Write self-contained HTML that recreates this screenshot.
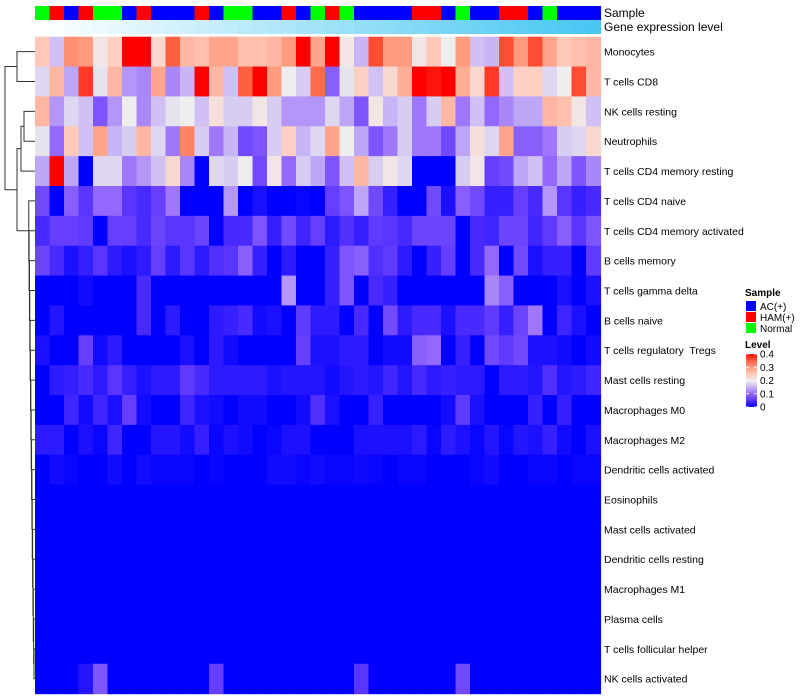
<!DOCTYPE html>
<html><head><meta charset="utf-8">
<style>
html,body{margin:0;padding:0;background:#fff;width:800px;height:700px;overflow:hidden;}
svg text{font-family:"Liberation Sans",sans-serif;white-space:pre;}
</style></head>
<body>
<svg id="chart" width="800" height="700" viewBox="0 0 800 700" xmlns="http://www.w3.org/2000/svg">
<g id="dendro" stroke="#333" stroke-width="1" fill="none"></g>
<g id="cells"></g>
<g id="annot"></g>
<g id="labels" font-size="10.5" fill="#000"></g>
<text x="604" y="17" font-size="12">Sample</text>
<text x="604" y="31" font-size="12">Gene expression level</text>
<g id="legend" font-size="10"></g>
</svg>
<script>
const rowNames = ["Monocytes","T cells CD8","NK cells resting","Neutrophils","T cells CD4 memory resting","T cells CD4 naive","T cells CD4 memory activated","B cells memory","T cells gamma delta","B cells naive","T cells regulatory  Tregs","Mast cells resting","Macrophages M0","Macrophages M2","Dendritic cells activated","Eosinophils","Mast cells activated","Dendritic cells resting","Macrophages M1","Plasma cells","T cells follicular helper","NK cells activated"];
const sampleGroups = ["Normal","HAM(+)","AC(+)","HAM(+)","Normal","Normal","AC(+)","HAM(+)","AC(+)","AC(+)","AC(+)","HAM(+)","AC(+)","Normal","Normal","AC(+)","AC(+)","HAM(+)","AC(+)","Normal","HAM(+)","Normal","AC(+)","AC(+)","AC(+)","AC(+)","HAM(+)","HAM(+)","AC(+)","Normal","AC(+)","AC(+)","HAM(+)","HAM(+)","AC(+)","Normal","AC(+)","AC(+)","AC(+)"];
const r0 = [0.25,0.16,0.31,0.30,0.21,0.24,0.4,0.4,0.23,0.35,0.27,0.26,0.29,0.29,0.26,0.26,0.27,0.30,0.4,0.29,0.4,0.21,0.15,0.36,0.30,0.30,0.21,0.25,0.2,0.30,0.16,0.15,0.36,0.30,0.36,0.29,0.25,0.26,0.27];
const r1 = [0.18,0.27,0.14,0.37,0.19,0.27,0.13,0.12,0.29,0.12,0.15,0.4,0.27,0.16,0.35,0.4,0.30,0.2,0.17,0.34,0.09,0.19,0.24,0.16,0.23,0.28,0.4,0.39,0.4,0.28,0.23,0.37,0.16,0.24,0.24,0.18,0.2,0.36,0.27];
const r2 = [0.27,0.13,0.18,0.16,0.08,0.13,0.2,0.12,0.16,0.19,0.2,0.16,0.22,0.17,0.17,0.21,0.17,0.13,0.13,0.13,0.18,0.14,0.08,0.21,0.15,0.17,0.11,0.17,0.27,0.11,0.16,0.10,0.12,0.14,0.14,0.27,0.26,0.21,0.16];
const r3 = [0.19,0.10,0.25,0.16,0.29,0.15,0.17,0.27,0.18,0.11,0.32,0.17,0.11,0.15,0.07,0.08,0.17,0.24,0.15,0.18,0.29,0.2,0.14,0.08,0.11,0.17,0.11,0.11,0.07,0.14,0.22,0.18,0.29,0.09,0.09,0.11,0.17,0.18,0.23];
const r4 = [0.14,0.4,0.14,0,0.18,0.18,0.11,0.13,0.16,0.23,0.12,0,0.18,0.17,0.2,0.07,0.21,0.10,0.17,0.14,0.08,0.16,0.27,0.17,0.21,0.18,0,0,0,0.17,0.21,0.06,0.07,0.14,0.16,0.10,0.14,0.08,0.12];
const r5 = [0.07,0,0.09,0.05,0.10,0.10,0.05,0.04,0.06,0.11,0,0,0,0.13,0,0.015,0,0,0.005,0,0.06,0.08,0.14,0.07,0.03,0,0,0.07,0.015,0.09,0.07,0.03,0.03,0.06,0.04,0.13,0.05,0.03,0.04];
const r6 = [0.04,0.06,0.06,0.055,0,0.06,0.06,0.04,0.065,0.05,0.05,0.065,0,0.04,0.04,0.08,0.03,0.07,0.035,0.06,0.025,0.045,0.03,0.055,0.05,0.04,0.065,0.065,0.065,0,0.04,0.035,0.065,0.065,0.035,0.055,0.09,0.05,0.08];
const r7 = [0.065,0.04,0.015,0.03,0.05,0.025,0.015,0.025,0.06,0.025,0.05,0.025,0.045,0.05,0.09,0.03,0,0.025,0,0,0.03,0.08,0.09,0.045,0.055,0.025,0,0.03,0.06,0,0.04,0.10,0,0.07,0.015,0.03,0.03,0,0.055];
const r8 = [0,0,0,0.01,0,0,0,0.04,0,0,0,0,0,0,0,0,0,0.13,0,0,0.03,0.08,0,0.04,0.03,0,0,0,0,0,0,0.12,0.09,0,0,0,0.015,0,0.015];
const r9 = [0,0.02,0,0,0,0,0,0.04,0,0.025,0,0,0.025,0.03,0.04,0.01,0.015,0,0.055,0.025,0.025,0,0.04,0,0.07,0.025,0.04,0.04,0.015,0.04,0.04,0.055,0.03,0.065,0.11,0,0.035,0.015,0];
const r10 = [0.015,0,0,0.06,0.01,0.025,0,0,0,0,0.015,0,0.025,0.01,0,0,0,0,0.06,0.015,0.015,0.025,0.025,0,0.01,0.01,0.09,0.10,0,0.03,0,0.07,0.055,0.07,0.015,0.015,0.01,0,0.01];
const r11 = [0,0.025,0.03,0.04,0.025,0.05,0.03,0.015,0.025,0.025,0.055,0.04,0.025,0.025,0.025,0.025,0.015,0.02,0.02,0.02,0.01,0.02,0.025,0.02,0.035,0.02,0.04,0.025,0.03,0.025,0.025,0,0.025,0.025,0.02,0.045,0.02,0.025,0.035];
const r12 = [0,0,0.035,0.01,0.035,0.015,0.06,0.01,0,0,0.035,0.015,0.01,0,0.01,0.01,0,0,0.01,0.045,0.015,0,0,0.03,0,0,0,0,0.01,0.055,0.015,0,0,0,0.03,0,0.03,0,0];
const r13 = [0.025,0.025,0,0.015,0.005,0.035,0,0,0.02,0.02,0.01,0.03,0.005,0.015,0.01,0,0.005,0.015,0.015,0,0,0,0.015,0.015,0.015,0.015,0.025,0.005,0.025,0.015,0.005,0.02,0.005,0.02,0.015,0.03,0.01,0,0.015];
const r14 = [0,0.01,0.005,0,0,0.01,0,0.01,0.005,0.005,0.005,0,0.005,0,0,0,0.01,0.01,0.005,0.01,0.005,0.005,0.008,0.005,0,0.005,0.005,0,0,0,0.005,0.01,0,0,0.005,0.005,0,0.005,0.005];
const r15 = [0,0,0,0,0,0,0,0,0,0,0,0,0,0,0,0,0,0,0,0,0,0,0,0,0,0,0,0,0,0,0,0,0,0,0,0,0,0,0];
const r16 = [0,0,0,0,0,0,0,0,0,0,0,0,0,0,0,0,0,0,0,0,0,0,0,0,0,0,0,0,0,0,0,0,0,0,0,0,0,0,0];
const r17 = [0,0,0,0,0,0,0,0,0,0,0,0,0,0,0,0,0,0,0,0,0,0,0,0,0,0,0,0,0,0,0,0,0,0,0,0,0,0,0];
const r18 = [0,0,0,0,0,0,0,0,0,0,0,0,0,0,0,0,0,0,0,0,0,0,0,0,0,0,0,0,0,0,0,0,0,0,0,0,0,0,0];
const r19 = [0,0,0,0,0,0,0,0,0,0,0,0,0,0,0,0,0,0,0,0,0,0,0,0,0,0,0,0,0,0,0,0,0,0,0,0,0,0,0];
const r20 = [0,0,0,0,0,0,0,0,0,0,0,0,0,0,0,0,0,0,0,0,0,0,0,0,0,0,0,0,0,0,0,0,0,0,0,0,0,0,0];
const r21 = [0,0,0,0.02,0.08,0,0,0,0,0,0,0,0.06,0,0,0,0,0,0,0,0,0,0.05,0,0,0,0,0,0,0.07,0,0,0,0,0,0,0,0,0];
const values = [r0,r1,r2,r3,r4,r5,r6,r7,r8,r9,r10,r11,r12,r13,r14,r15,r16,r17,r18,r19,r20,r21];
const levelTicks = [0,0.1,0.2,0.3,0.4];
const groupNames = ["AC(+)","HAM(+)","Normal"];

const NS="http://www.w3.org/2000/svg";
const X0=35, X1=600.5, Y0=36.7, Y1=693.6;
const nCol=sampleGroups.length, nRow=rowNames.length;
const cw=(X1-X0)/nCol, rh=(Y1-Y0)/nRow;
const xPos=c=>X0+c*cw;
const yPos=r=>Y0+r*rh;
const groupColor={"AC(+)":"#0000ff","HAM(+)":"#ff0000","Normal":"#00ff00"};
const stops=[[0,[0,0,255]],[0.05,[90,53,255]],[0.1,[148,104,252]],[0.15,[200,181,245]],[0.2,[238,238,238]],[0.25,[255,200,184]],[0.3,[255,156,128]],[0.35,[255,96,64]],[0.4,[255,0,0]]];
function colorOf(v){
  v=Math.max(0,Math.min(0.4,v));
  for(let i=0;i<stops.length-1;i++){
    const [a,ca]=stops[i],[b,cb]=stops[i+1];
    if(v<=b){const t=(v-a)/(b-a);
      return "rgb("+ca.map((c,k)=>Math.round(c+(cb[k]-c)*t)).join(",")+")";}
  }
  return "rgb(255,0,0)";
}
function mk(tag,attrs,parent){const e=document.createElementNS(NS,tag);for(const k in attrs)e.setAttribute(k,attrs[k]);parent.appendChild(e);return e;}

const cells=document.getElementById("cells");
values.forEach((row,r)=>{row.forEach((v,c)=>{
  const el=mk("rect",{x:xPos(c),y:yPos(r),width:cw+0.6,height:rh+0.6,fill:colorOf(v)},cells);
  
  
});});

const annot=document.getElementById("annot");
sampleGroups.forEach((g,c)=>{
  const el=mk("rect",{x:xPos(c),y:6,width:cw+0.6,height:14,fill:groupColor[g]},annot);
  
  
  const t=c/(nCol-1);
  const col="rgb("+Math.round(255-(255-71)*t)+","+Math.round(255-(255-199)*t)+","+Math.round(255-(255-242)*t)+")";
  const el2=mk("rect",{x:xPos(c),y:20,width:cw+0.6,height:14,fill:col},annot);
  
  
});

const labels=document.getElementById("labels");
rowNames.forEach((n,r)=>{
  const el=mk("text",{x:604,y:yPos(r)+rh/2+4},labels);
  el.textContent=n;
  
  
});

const dg=document.getElementById("dendro");
const yc=r=>yPos(r)+rh/2;
function link(x,ya,yb,xa,xb){
  const el=mk("path",{d:`M${xa},${ya}H${x}V${yb}H${xb}`},dg);
  
  
}
link(17,yc(0),yc(1),35,35);
const m23=(yc(2)+yc(3))/2; link(24,yc(2),yc(3),35,35);
const m234=(m23+yc(4))/2; link(21,m23,yc(4),24,35);
let prevY=yc(21), prevX=35;
for(let r=20;r>=5;r--){
  const x=34-(20-r)*0.35;
  const m=(yc(r)+prevY)/2;
  link(x,yc(r),prevY,35,prevX);
  prevY=m; prevX=x;
}
const mRest=prevY, xRest=prevX;
const mX=(m234+mRest)/2; link(17,m234,mRest,21,xRest);
link(5,(yc(0)+yc(1))/2,mX,17,17);

const lg=document.getElementById("legend");
let t=mk("text",{x:745,y:296,"font-weight":"bold"},lg); t.textContent="Sample";
 
groupNames.forEach((g,i)=>{
  const r=mk("rect",{x:746,y:301+i*11,width:10,height:10,fill:groupColor[g]},lg);
  
  
  const tx=mk("text",{x:760,y:310+i*11},lg); tx.textContent=g;
  
  
});
t=mk("text",{x:745,y:348,"font-weight":"bold"},lg); t.textContent="Level";
 
const defs=mk("defs",{},lg);
const grad=mk("linearGradient",{id:"lvl",x1:0,y1:1,x2:0,y2:0},defs);
stops.forEach(s=>mk("stop",{offset:s[0]/0.4,"stop-color":colorOf(s[0])},grad));
const LY0=354,LY1=407;
const cb=mk("rect",{x:746,y:LY0,width:11,height:LY1-LY0,fill:"url(#lvl)"},lg);
 
levelTicks.forEach(v=>{
  const y=LY1-(v/0.4)*(LY1-LY0);
  const l=mk("line",{x1:746,x2:749,y1:y,y2:y,stroke:"#fff"},lg);
   
  const l2=mk("line",{x1:754,x2:757,y1:y,y2:y,stroke:"#fff"},lg);
   
  const tx=mk("text",{x:760,y:y+3.5},lg); tx.textContent=String(v);
   
});
</script>
</body></html>
